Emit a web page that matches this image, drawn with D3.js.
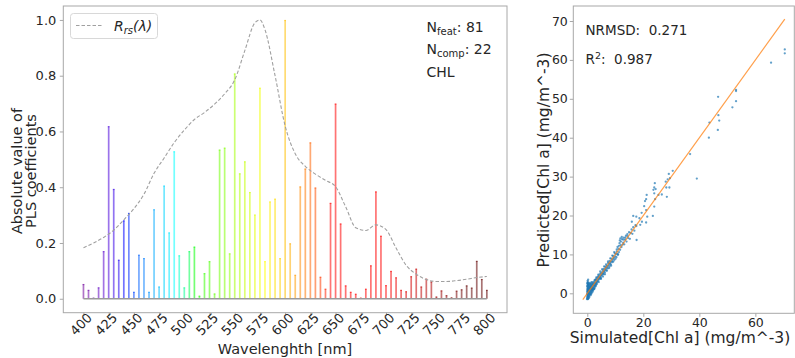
<!DOCTYPE html>
<html>
<head>
<meta charset="utf-8">
<script src="https://cdn.jsdelivr.net/npm/d3@7"></script>
<style>
  body { margin: 0; background: #fff; }
  svg { display: block; font-family: "DejaVu Sans", sans-serif; }
</style>
</head>
<body>
<svg id="chart" width="795" height="358"></svg>
<script>
// ---- PLS coefficient spectrum (left panel) ----
const wavelengths = d3.range(400, 801, 5);
const plsCoef = [
  0.053, 0.032, 0.004, 0.041, 0.171, 0.619, 0.394, 0.140, 0.281, 0.308,
  0.025, 0.158, 0.146, 0.025, 0.321, 0.044, 0.406, 0.238, 0.529, 0.156,
  0.041, 0.171, 0.187, 0.011, 0.092, 0.135, 0.019, 0.535, 0.542, 0.163,
  0.808, 0.450, 0.493, 0.383, 0.302, 0.757, 0.135, 0.349, 0.359, 0.146,
  1.000, 0.199, 0.086, 0.403, 0.467, 0.561, 0.399, 0.079, 0.036, 0.344,
  0.700, 0.270, 0.048, 0.025, 0.018, 0.004, 0.036, 0.120, 0.385, 0.226,
  0.049, 0.100, 0.077, 0.032, 0.027, 0.081, 0.108, 0.044, 0.072, 0.062,
  0.008, 0.030, 0.013, 0.005, 0.029, 0.034, 0.048, 0.040, 0.136, 0.071,
  0.032
];
// normalised reflectance spectrum overlay
const rrsWl = [400, 410, 420, 430, 440, 450, 460, 470, 480, 490, 500, 510, 520, 530, 540,
  550, 560, 570, 575, 580, 590, 600, 610, 620, 630, 640, 650, 660, 670, 680, 690, 700,
  710, 720, 730, 740, 750, 760, 770, 780, 790, 800];
const rrsVal = [0.183, 0.200, 0.220, 0.246, 0.283, 0.323, 0.375, 0.450, 0.505, 0.560, 0.605,
  0.643, 0.668, 0.698, 0.735, 0.785, 0.890, 0.990, 1.000, 0.965, 0.800, 0.620, 0.520, 0.475,
  0.447, 0.425, 0.402, 0.330, 0.255, 0.245, 0.265, 0.248, 0.182, 0.120, 0.088, 0.069, 0.062,
  0.062, 0.065, 0.070, 0.076, 0.080];
const xTicksLeft = [400, 425, 450, 475, 500, 525, 550, 575, 600, 625, 650, 675, 700, 725, 750, 775, 800];
const yTicksLeft = [0, 0.2, 0.4, 0.6, 0.8, 1.0];
const infoLines = [["N", "feat", ": 81"], ["N", "comp", ": 22"], ["CHL", "", ""]];

// ---- Validation scatter (right panel): [simulated, predicted] ----
const scatterPts = [
  [-0.1,-1.5],[0,-1.2],[0.1,-1.4],[0.2,-1.1],[0,-0.9],[0.1,-0.7],[0.3,-0.9],[0,-0.4],[0.2,-0.5],[0.1,-0.2],
  [0,0],[0.3,0.1],[0.1,0.3],[0,0.5],[0.2,0.7],[0.1,0.9],[0,1.1],[0.3,1.3],[0.1,1.5],[0,1.8],
  [0.2,2.0],[0.1,2.3],[0,2.6],[0.2,2.9],[0.1,3.2],[0.3,3.5],[0.2,2.5],[0.4,1.9],[0.4,0.4],[0.4,-0.6],
  [0.5,-1.3],[0.6,-0.8],[0.5,0.0],[0.7,0.6],[0.6,1.2],[0.8,1.9],[0.7,2.7],[0.9,-0.3],[0.9,0.9],[1.0,1.5],
  [1.0,0.2],[1.1,2.3],[1.2,1.0],[1.2,-0.5],[1.3,0.5],[1.3,1.8],[1.4,2.8],[1.5,1.2],[1.5,0.1],
  [0.3,-1.3],[0.2,0.2],[0.6,0.3],[0.8,-0.2],[0.4,1.0],[0.6,2.2],[0.3,2.2],[1.1,0.7],[1.4,-0.2],[0.8,1.4],
  [1.6,1.0],[1.9,2.3],[2.2,1.3],[0.5,1.6],[0.2,-1.5],[0.7,-1.0],
  [0.1,0.6],[0.2,1.3],[0.05,1.9],[0.15,2.7],[0.25,-0.2],[0.35,0.8],[0.45,2.4],[0.55,0.6],[0.65,1.6],[0.75,-0.4],
  [0.85,1.1],[0.95,2.5],[1.05,-0.1],[1.15,1.7],[1.25,0.3],[1.35,1.3],[1.45,2.1],[1.55,0.7],[1.65,1.8],[1.75,2.9],
  [1.85,1.3],[1.95,0.9],[2.05,2.3],[2.15,1.1],[2.45,2.5],[2.55,1.2],[2.75,1.9],[2.85,2.5],[2.95,3.6],[3.15,2.2],
  [1.6,2.0],[1.7,0.8],[1.7,1.5],[1.8,2.5],[1.9,1.1],[2.0,1.9],[2.0,0.6],[2.1,2.7],[2.2,1.6],[2.3,2.2],
  [2.3,1.0],[2.4,3.0],[2.5,2.0],[2.6,1.5],[2.7,2.6],[2.8,3.3],[2.9,2.1],[3.0,2.8],[3.0,1.8],
  [3.1,3.5],[3.2,2.6],[3.3,3.1],[3.4,3.9],[3.5,2.9],[3.6,3.4],[3.7,4.2],[3.8,3.1],[3.9,3.7],[4.0,4.4],
  [4.1,3.5],[4.2,4.0],[4.3,4.8],[4.4,3.9],[4.5,4.3],[4.6,3.8],[4.7,5.1],[4.8,4.5],[4.9,4.0],[5.0,4.9],
  [5.1,5.4],[5.2,4.6],[5.4,5.1],[5.5,5.9],[5.6,5.0],[5.7,5.5],[5.8,4.9],[5.9,6.3],[6.0,5.6],[6.2,6.0],
  [6.3,5.4],[6.4,6.8],[6.5,6.1],[6.6,6.5],[6.8,5.9],[6.9,7.1],[7.0,6.6],
  [0.5,1.0],[0.9,1.8],[1.3,2.4],[1.8,0.3],[2.4,1.2],[2.6,3.4],[3.2,4.1],[3.4,2.4],[3.9,4.8],[4.1,2.9],
  [4.6,5.6],[4.9,3.7],[5.3,6.2],[5.6,4.3],[6.0,6.9],[6.3,4.9],[6.7,7.4],[7.0,5.8],[7.4,8.2],[7.8,6.5],
  [8.2,9.0],[8.5,7.1],[8.9,9.7],[9.3,8.2],[9.6,10.6],[10.1,8.9],[10.5,11.3],[11.0,10.0],[10.8,11.9],[11.3,12.2],
  [11.7,11.2],[12.3,14.5],[12.9,13.8],[13.6,14.3],[14.4,14.7],
  [7.2,7.0],[7.3,6.4],[7.4,7.8],[7.6,7.2],[7.7,7.6],[7.9,6.9],[8.0,8.3],[8.1,7.6],[8.3,8.0],[8.4,7.4],
  [8.6,8.9],[8.7,8.2],[8.9,8.6],[9.0,8.0],[9.2,9.6],[9.3,8.9],[9.5,9.2],[9.7,8.6],[9.8,10.3],[10.0,9.5],
  [10.2,10.1],[10.4,9.3],[10.5,10.8],[10.7,10.2],[10.9,9.9],[11.1,11.4],[11.3,10.6],[11.5,12.9],[11.6,13.6],[11.8,14.1],
  [11.9,12.4],[12.0,13.3],[12.2,11.9],[12.4,13.9],[12.6,12.5],[12.8,13.0],[13.0,14.3],
  [13.2,12.6],[13.5,13.8],[13.8,14.8],[14.0,13.3],[14.3,15.2],[14.6,14.2],[14.9,15.7],[15.2,14.0],[15.5,15.5],
  [15.8,16.4],[16.1,15.3],[16.4,17.0],[16.8,16.1],[17.2,17.5],[17.6,13.7],
  [15.9,18.4],[16.4,19.9],[17.5,19.7],[17.5,17.3],[18.6,19.3],[18.9,17.6],[19.4,20.7],[19.5,18.4],[20.3,22.4],[20.6,23.7],
  [21.0,21.4],[21.0,24.2],[21.0,18.2],[21.2,25.3],[21.4,19.7],[23.4,19.9],[23.6,26.6],[23.9,27.2],[23.9,25.7],[23.9,22.3],
  [24.1,28.3],[24.2,24.2],[24.4,26.8],[25.4,25.3],[26.6,25.4],[28.0,28.7],[28.2,27.2],[28.4,24.8],[28.7,29.3],[29.1,30.7],
  [29.3,27.2],[29.5,29.6],[30.5,31.5],[36.7,35.8],[39.1,29.5],[43.4,40.0],[43.6,43.9],[46.6,42.0],[46.8,45.8],[46.7,50.5],
  [47.1,44.4],[51.8,47.8],[53.1,49.4],[53.1,52.0],[53.1,52.3],[65.6,59.3],[70.5,61.7],[70.5,62.7]
];
const oneToOne = [[-1.6, -1.6], [70.5, 70.5]];
const xTicksRight = [0, 20, 40, 60];
const yTicksRight = [0, 10, 20, 30, 40, 50, 60, 70];

const svg = d3.select("#chart");
const spineColor = "#a8a8a8";
const textColor = "#262626";

// visible-spectrum colour for a wavelength in nm (intensity fades at both ends)
function spectrumColor(wl) {
  const g = 0.8;
  const w = Math.min(wl, 780);
  let r = 0, gr = 0, b = 0;
  if (w < 440) {
    const att = 0.3 + 0.7 * (w - 380) / 60;
    r = Math.pow((440 - w) / 60 * att, g); b = Math.pow(att, g);
  } else if (w < 490) {
    gr = Math.pow((w - 440) / 50, g); b = 1;
  } else if (w < 510) {
    gr = 1; b = Math.pow((510 - w) / 20, g);
  } else if (w < 580) {
    r = Math.pow((w - 510) / 70, g); gr = 1;
  } else if (w < 645) {
    r = 1; gr = Math.pow((645 - w) / 65, g);
  } else if (w <= 700) {
    r = 1;
  } else {
    const att = 0.3 + 0.7 * (780 - w) / 80;
    r = Math.pow(att, g);
  }
  return d3.rgb(r * 255, gr * 255, b * 255).toString();
}

// ================= left panel =================
const L = { left: 63.3, right: 507, top: 6, bottom: 312.7 };
const xL = d3.scaleLinear().domain([380, 820]).range([L.left, L.right]);
const yL = d3.scaleLinear().domain([-0.05, 1.05]).range([L.bottom, L.top]);

const gL = svg.append("g");

// bars
const bars = gL.append("g");
wavelengths.forEach((w, i) => {
  const c = spectrumColor(w);
  const x0 = xL(w), y0 = yL(0), y1 = yL(plsCoef[i]);
  bars.append("rect")
    .attr("x", x0 - 0.85).attr("width", 1.7)
    .attr("y", y1).attr("height", Math.max(0, y0 - y1))
    .attr("fill", c).attr("fill-opacity", 0.55);
  bars.append("rect")
    .attr("x", x0 - 0.85).attr("width", 1.7)
    .attr("y", y1).attr("height", 1.2)
    .attr("fill", c).attr("fill-opacity", 0.5);
});

// zero line under the bars
gL.append("line")
  .attr("x1", xL(400)).attr("x2", xL(800))
  .attr("y1", yL(0)).attr("y2", yL(0))
  .attr("stroke", "#9a9a9a").attr("stroke-width", 1.5);

// reflectance curve
gL.append("path")
  .datum(rrsWl.map((w, i) => [w, rrsVal[i]]))
  .attr("fill", "none")
  .attr("stroke", "#a0a0a0")
  .attr("stroke-width", 1.1)
  .attr("stroke-dasharray", "3.5,2")
  .attr("d", d3.line().x(d => xL(d[0])).y(d => yL(d[1])).curve(d3.curveMonotoneX));

// frame
gL.append("rect")
  .attr("x", L.left).attr("y", L.top)
  .attr("width", L.right - L.left).attr("height", L.bottom - L.top)
  .attr("fill", "none").attr("stroke", spineColor).attr("stroke-width", 1);

// y axis
gL.append("g").attr("transform", `translate(${L.left},0)`)
  .call(d3.axisLeft(yL).tickValues(yTicksLeft).tickFormat(d3.format(".1f")).tickSize(3.5).tickPadding(3.5));
// x axis
const xAxL = gL.append("g").attr("transform", `translate(0,${L.bottom})`)
  .call(d3.axisBottom(xL).tickValues(xTicksLeft).tickSize(3.5).tickPadding(3.5));
xAxL.selectAll(".tick text")
  .attr("text-anchor", "middle")
  .attr("dominant-baseline", "central")
  .attr("dy", null)
  .attr("y", null)
  .attr("transform", "translate(-3,11.5) rotate(-45)");

// legend
const leg = gL.append("g");
leg.append("rect")
  .attr("x", 70.5).attr("y", 13.5).attr("width", 87).attr("height", 25)
  .attr("rx", 3).attr("fill", "#fff").attr("fill-opacity", 0.8)
  .attr("stroke", "#d8d8d8").attr("stroke-width", 1);
leg.append("line")
  .attr("x1", 76).attr("x2", 103.5).attr("y1", 25.5).attr("y2", 25.5)
  .attr("stroke", "#a0a0a0").attr("stroke-width", 1.1).attr("stroke-dasharray", "3.5,2");
const legText = leg.append("text").attr("x", 114).attr("y", 30.5)
  .attr("font-size", 14).attr("fill", textColor).attr("font-style", "italic");
legText.append("tspan").text("R");
legText.append("tspan").attr("font-size", 10).attr("dy", 3).text("rs");
legText.append("tspan").attr("dy", -3).text("(λ)");

// info block
infoLines.forEach((ln, i) => {
  const t = gL.append("text").attr("x", 426.5).attr("y", 31.5 + i * 22.5)
    .attr("font-size", 14).attr("fill", textColor);
  t.append("tspan").text(ln[0]);
  if (ln[1]) {
    t.append("tspan").attr("font-size", 10).attr("dy", 3).text(ln[1]);
    t.append("tspan").attr("dy", -3).text(ln[2]);
  }
});

// axis labels
gL.append("text")
  .attr("x", 285).attr("y", 354)
  .attr("text-anchor", "middle").attr("font-size", 14.5).attr("fill", textColor)
  .text("Wavelenghth [nm]");
const yLab = gL.append("text")
  .attr("transform", "translate(21.5,171) rotate(-90)")
  .attr("text-anchor", "middle").attr("font-size", 14.5).attr("fill", textColor);
yLab.append("tspan").attr("x", 0).attr("y", 0).text("Absolute value of");
yLab.append("tspan").attr("x", 0).attr("y", 14.5).text("PLS coefficients");

// ================= right panel =================
const R = { left: 573.3, right: 794.3, top: 6, bottom: 313.3 };
const xR = d3.scaleLinear().domain([-5.0, 73.9]).range([R.left, R.right]);
const yR = d3.scaleLinear().domain([-5.14, 73.86]).range([R.bottom, R.top]);
const gR = svg.append("g");

gR.append("g").selectAll("circle").data(scatterPts).join("circle")
  .attr("cx", d => xR(d[0])).attr("cy", d => yR(d[1]))
  .attr("r", 1.15).attr("fill", "#1f77b4").attr("fill-opacity", 0.7);

gR.append("line")
  .attr("x1", xR(oneToOne[0][0])).attr("y1", yR(oneToOne[0][1]))
  .attr("x2", xR(oneToOne[1][0])).attr("y2", yR(oneToOne[1][1]))
  .attr("stroke", "#ff7f0e").attr("stroke-opacity", 0.75).attr("stroke-width", 1.2);

gR.append("rect")
  .attr("x", R.left).attr("y", R.top)
  .attr("width", R.right - R.left).attr("height", R.bottom - R.top)
  .attr("fill", "none").attr("stroke", spineColor).attr("stroke-width", 1);

gR.append("g").attr("class", "ry").attr("transform", `translate(${R.left},0)`)
  .call(d3.axisLeft(yR).tickValues(yTicksRight).tickSize(3.5).tickPadding(2));
gR.append("g").attr("class", "rx").attr("transform", `translate(0,${R.bottom})`)
  .call(d3.axisBottom(xR).tickValues(xTicksRight).tickSize(3.5).tickPadding(1));

gR.append("text").attr("x", 585.5).attr("y", 35)
  .attr("font-size", 13.5).attr("fill", textColor).attr("xml:space", "preserve")
  .text("NRMSD:  0.271");
const stat2 = gR.append("text").attr("x", 585.5).attr("y", 63.5)
  .attr("font-size", 13.5).attr("fill", textColor).attr("xml:space", "preserve");
stat2.append("tspan").text("R");
stat2.append("tspan").attr("font-size", 9.5).attr("dy", -5).text("2");
stat2.append("tspan").attr("dy", 5).text(":  0.987");

gR.append("text")
  .attr("x", 680).attr("y", 343)
  .attr("text-anchor", "middle").attr("font-size", 15.5).attr("fill", textColor)
  .text("Simulated[Chl a] (mg/m^-3)");
gR.append("text")
  .attr("transform", "translate(549,160) rotate(-90)")
  .attr("text-anchor", "middle").attr("font-size", 15.5).attr("fill", textColor)
  .text("Predicted[Chl a] (mg/m^-3)");

// shared axis styling
svg.selectAll(".domain").remove();
svg.selectAll(".tick line").attr("stroke", spineColor);
svg.selectAll(".tick text").attr("fill", textColor).attr("font-size", 13)
  .attr("font-family", "DejaVu Sans, sans-serif");
gR.selectAll(".tick text").attr("font-size", 12.5);
</script>
</body>
</html>
